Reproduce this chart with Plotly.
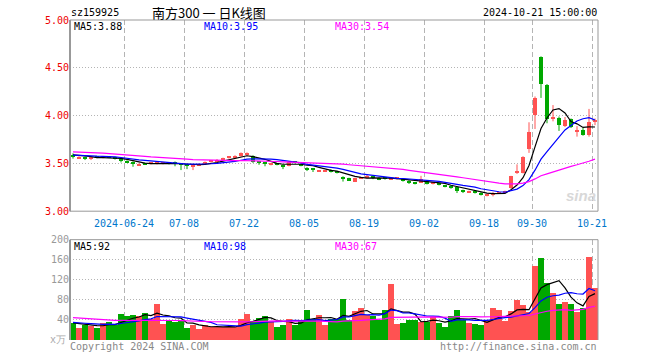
import pandas as pd
import plotly.graph_objects as go

# ---------------- data ----------------
holidays = ["2024-09-16", "2024-09-17", "2024-10-01", "2024-10-02", "2024-10-03",
            "2024-10-04", "2024-10-07"]
dates = [d.strftime("%Y-%m-%d") for d in pd.bdate_range("2024-06-11", "2024-10-21")
         if d.strftime("%Y-%m-%d") not in holidays]

open_ = [3.590, 3.555, 3.568, 3.548, 3.565, 3.562, 3.568, 3.565, 3.548, 3.528,
         3.515, 3.480, 3.500, 3.495, 3.495, 3.498, 3.500, 3.500, 3.495, 3.480,
         3.465, 3.480, 3.500, 3.515, 3.520, 3.538, 3.558, 3.560, 3.575, 3.590,
         3.580, 3.510, 3.500, 3.490, 3.495, 3.480, 3.475, 3.515, 3.495, 3.455,
         3.445, 3.420, 3.415, 3.435, 3.410, 3.345, 3.345, 3.310, 3.345, 3.350,
         3.360, 3.350, 3.345, 3.335, 3.340, 3.330, 3.320, 3.295, 3.300, 3.315,
         3.285, 3.285, 3.270, 3.265, 3.250, 3.210, 3.200, 3.200, 3.195, 3.165,
         3.170, 3.185, 3.200, 3.240, 3.400, 3.400, 3.650, 4.010, 4.610, 4.320,
         3.965, 3.980, 3.895, 3.960, 3.835, 3.850, 3.800, 3.940]
high = [3.605, 3.575, 3.572, 3.565, 3.570, 3.575, 3.572, 3.570, 3.550, 3.532,
        3.520, 3.500, 3.505, 3.505, 3.515, 3.508, 3.505, 3.520, 3.500, 3.485,
        3.485, 3.500, 3.520, 3.530, 3.545, 3.560, 3.575, 3.585, 3.615, 3.615,
        3.585, 3.515, 3.505, 3.505, 3.500, 3.485, 3.515, 3.520, 3.500, 3.460,
        3.450, 3.430, 3.425, 3.440, 3.415, 3.365, 3.350, 3.350, 3.360, 3.385,
        3.365, 3.355, 3.350, 3.345, 3.350, 3.335, 3.325, 3.300, 3.370, 3.320,
        3.300, 3.290, 3.275, 3.270, 3.255, 3.225, 3.215, 3.205, 3.200, 3.180,
        3.200, 3.200, 3.215, 3.370, 3.490, 3.575, 3.930, 4.200, 4.620, 4.330,
        4.110, 3.990, 3.985, 3.970, 3.890, 3.870, 4.070, 3.970]
low = [3.550, 3.550, 3.535, 3.535, 3.555, 3.553, 3.555, 3.540, 3.510, 3.505,
       3.465, 3.475, 3.485, 3.490, 3.490, 3.490, 3.490, 3.470, 3.430, 3.440,
       3.430, 3.475, 3.495, 3.510, 3.515, 3.535, 3.550, 3.555, 3.570, 3.580,
       3.505, 3.485, 3.470, 3.480, 3.480, 3.440, 3.470, 3.500, 3.470, 3.420,
       3.410, 3.415, 3.410, 3.405, 3.395, 3.310, 3.320, 3.305, 3.340, 3.345,
       3.335, 3.325, 3.330, 3.330, 3.330, 3.310, 3.285, 3.280, 3.295, 3.280,
       3.280, 3.270, 3.250, 3.235, 3.190, 3.190, 3.190, 3.185, 3.165, 3.155,
       3.155, 3.180, 3.195, 3.235, 3.390, 3.395, 3.610, 3.860, 4.185, 3.920,
       3.940, 3.840, 3.880, 3.870, 3.780, 3.790, 3.780, 3.900]
close = [3.565, 3.568, 3.545, 3.558, 3.562, 3.566, 3.562, 3.550, 3.525, 3.510,
         3.490, 3.495, 3.490, 3.500, 3.500, 3.502, 3.497, 3.495, 3.485, 3.475,
         3.480, 3.495, 3.510, 3.525, 3.538, 3.555, 3.562, 3.578, 3.610, 3.595,
         3.510, 3.505, 3.495, 3.500, 3.490, 3.465, 3.510, 3.510, 3.480, 3.440,
         3.440, 3.425, 3.420, 3.410, 3.405, 3.340, 3.325, 3.345, 3.352, 3.370,
         3.350, 3.330, 3.340, 3.342, 3.345, 3.320, 3.290, 3.290, 3.340, 3.285,
         3.290, 3.280, 3.260, 3.240, 3.215, 3.205, 3.205, 3.195, 3.170, 3.170,
         3.180, 3.195, 3.210, 3.370, 3.410, 3.570, 3.830, 4.185, 4.330, 3.960,
         3.990, 3.900, 3.955, 3.880, 3.845, 3.800, 3.935, 3.945]
volume = [35, 24, 31, 29, 24, 34, 36, 31, 52, 48,
          50, 48, 54, 43, 72, 32, 39, 36, 39, 24,
          30, 22, 30, 26, 26, 26, 26, 26, 42, 52,
          39, 44, 48, 37, 26, 30, 42, 30, 40, 60,
          42, 50, 30, 42, 42, 82, 40, 58, 64, 50,
          48, 40, 60, 112, 32, 34, 40, 40, 36, 36,
          46, 34, 26, 48, 60, 40, 34, 32, 30, 40,
          64, 60, 38, 58, 80, 70, 56, 148, 164, 114,
          94, 72, 76, 72, 56, 64, 166, 104]
# sessions before the visible window (only used by the moving averages)
pre_close = [3.600, 3.620, 3.660, 3.670, 3.660, 3.670, 3.660, 3.660, 3.650, 3.630,
             3.660, 3.670, 3.670, 3.660, 3.650, 3.610, 3.580, 3.600, 3.580, 3.590,
             3.570, 3.580, 3.590, 3.600, 3.570, 3.580, 3.590, 3.600, 3.615]
pre_volume = [50, 55, 60, 52, 48, 55, 50, 45, 48, 52, 46, 50, 44, 48, 55,
              50, 45, 42, 48, 40, 38, 35, 36, 34, 38, 32, 36, 35, 33]

tick_dates = ["2024-06-24", "2024-07-08", "2024-07-22", "2024-08-05", "2024-08-19",
              "2024-09-02", "2024-09-18", "2024-09-30", "2024-10-21"]
tick_text = ["2024-06-24", "07-08", "07-22", "08-05", "08-19", "09-02", "09-18",
             "09-30", "10-21"]
price_ticks = [3.0, 3.5, 4.0, 4.5, 5.0]
price_tick_text = ["3.00", "3.50", "4.00", "4.50", "5.00"]
vol_ticks = [40, 80, 120, 160, 200]
vol_tick_text = ["40", "80", "120", "160", "200"]

# ---------------- derived ----------------
n = len(dates)
idx = list(range(n))
npre = len(pre_close)
cs = pd.Series(pre_close + close)
vs = pd.Series(pre_volume + volume)
ma = {k: cs.rolling(k).mean().iloc[npre:].tolist() for k in (5, 10, 30)}
vma = {k: vs.rolling(k).mean().iloc[npre:].tolist() for k in (5, 10, 30)}

RED = "#ff5252"
GREEN = "#00a800"
up = [c >= o for o, c in zip(open_, close)]
colors = [RED if u else GREEN for u in up]

fig = go.Figure()

# wicks
for flag, col in ((True, RED), (False, GREEN)):
    wx, wy = [], []
    for i in idx:
        if up[i] == flag:
            wx += [i, i, None]
            wy += [low[i], high[i], None]
    fig.add_trace(go.Scatter(x=wx, y=wy, mode="lines", line=dict(color=col, width=1),
                             hoverinfo="skip", showlegend=False, xaxis="x", yaxis="y"))
# bodies
body_base = [min(o, c) for o, c in zip(open_, close)]
body_h = [max(abs(c - o), 0.011) for o, c in zip(open_, close)]
fig.add_trace(go.Bar(x=idx, y=body_h, base=body_base, marker=dict(color=colors, line=dict(width=0)),
                     width=0.7, showlegend=False, xaxis="x", yaxis="y"))

ma_colors = {5: "#000000", 10: "#0000ff", 30: "#ff00ff"}
for k in (5, 10, 30):
    fig.add_trace(go.Scatter(x=idx, y=ma[k], mode="lines", line=dict(color=ma_colors[k], width=1.2),
                             showlegend=False, xaxis="x", yaxis="y"))

# volume
fig.add_trace(go.Bar(x=idx, y=volume, marker=dict(color=colors, line=dict(width=0)), width=0.86,
                     showlegend=False, xaxis="x2", yaxis="y2"))
for k in (5, 10, 30):
    fig.add_trace(go.Scatter(x=idx, y=vma[k], mode="lines", line=dict(color=ma_colors[k], width=1.2),
                             showlegend=False, xaxis="x2", yaxis="y2"))

tickvals = [dates.index(d) - 0.5 for d in tick_dates]

W, H = 660, 360
L, R, T, B = 70, 62, 20, 19.5
pw, ph = W - L - R, H - T - B


def px(x):
    return (x - L) / pw


def py(y):
    return (H - B - y) / ph


price_dom = [py(211.5), 1.0]
vol_dom = [0.0, py(240)]

MONO = "DejaVu Sans Mono"
xcommon = dict(range=[-0.5, n - 0.5], showgrid=True, gridcolor="#b4b4b4", griddash="5px,3px",
               gridwidth=1, zeroline=False, showline=False, tickvals=tickvals, ticks="")
fig.update_layout(
    width=W, height=H, margin=dict(l=L, r=R, t=T, b=B),
    paper_bgcolor="white", plot_bgcolor="white", bargap=0, barmode="overlay",
    xaxis=dict(**xcommon, domain=[0, 1], anchor="y", ticktext=tick_text, ticklabelstandoff=5,
               tickfont=dict(family=MONO, size=10, color="#0077cc")),
    xaxis2=dict(**xcommon, domain=[0, 1], anchor="y2", matches="x", showticklabels=False),
    yaxis=dict(domain=price_dom, range=[3.0, 5.0], tickvals=price_ticks, ticktext=price_tick_text,
               tickfont=dict(family=MONO, size=10, color="#ee0000"), showgrid=True,
               gridcolor="#b4b4b4", griddash="1px,2px", zeroline=False, showline=False, ticks=""),
    yaxis2=dict(domain=vol_dom, range=[0, 200], tickvals=vol_ticks, ticktext=vol_tick_text,
                tickfont=dict(family=MONO, size=10, color="#999999"), showgrid=True,
                gridcolor="#b4b4b4", griddash="1px,2px", zeroline=False, showline=False, ticks=""),
    hovermode=False,
)

# frames
border = dict(color="#999999", width=1)
shapes = [
    dict(type="rect", xref="paper", yref="paper", x0=0, x1=1, y0=price_dom[0], y1=1, line=border),
    dict(type="line", xref="paper", yref="paper", x0=0, x1=1, y0=vol_dom[1], y1=vol_dom[1], line=border),
    dict(type="line", xref="paper", yref="paper", x0=0, x1=0, y0=0, y1=vol_dom[1], line=dict(color="#999999", width=2)),
    dict(type="line", xref="paper", yref="paper", x0=1, x1=1, y0=0, y1=vol_dom[1], line=border),
    dict(type="line", xref="paper", yref="paper", x0=0, x1=0, y0=price_dom[0], y1=1, line=dict(color="#999999", width=2)),
]
fig.update_layout(shapes=shapes)


def txt(x, y, s, color="#000000", size=10, anchor="left", family=MONO, **kw):
    fig.add_annotation(x=px(x), y=py(y), xref="paper", yref="paper", text=s, showarrow=False,
                       xanchor=anchor, yanchor="middle", font=dict(family=family, size=size, color=color),
                       borderpad=0, **kw)


txt(70, 12.5, "sz159925", size=10)
txt(209, 12, "南方300 一 日K线图", size=13, anchor="center", family="Noto Sans CJK SC")
txt(598, 12.5, "2024-10-21 15:00:00", size=10, anchor="right")
txt(73, 27, f"MA5:{ma[5][-1]:.2f}")
txt(203, 27, f"MA10:{ma[10][-1]:.2f}", color="#0000ff")
txt(334, 27, f"MA30:{ma[30][-1]:.2f}", color="#ff00ff")
txt(73, 247, f"MA5:{vma[5][-1]:.0f}")
txt(203, 247, f"MA10:{vma[10][-1]:.0f}", color="#0000ff")
txt(334, 247, f"MA30:{vma[30][-1]:.0f}", color="#ff00ff")
txt(49, 340, "x万", color="#aaaaaa", size=10)
txt(69, 347, "Copyright 2024 SINA.COM", color="#888888", size=10)
txt(598, 347, "http://finance.sina.com.cn", color="#888888", size=10, anchor="right")
txt(581, 196, "<b><i>sina</i></b>", color="#d8d8d8", size=15, anchor="center", family="Arial")

fig.write_html("out.html", config={"displayModeBar": False},
               post_script="document.body.style.margin='0';document.body.style.overflow='hidden';")
